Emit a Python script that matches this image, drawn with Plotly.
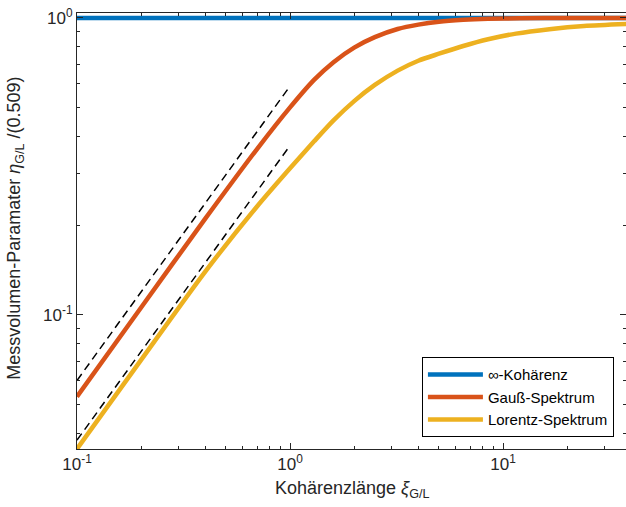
import plotly.graph_objects as go

# ---- data ----
x_inf = [0.1, 40.0]
y_inf = [1.0, 1.0]

x_gauss = [0.1, 0.2, 0.4, 0.7, 1.0, 1.3, 1.6, 2.0, 2.5, 3.2, 4.0, 5.0, 6.5, 8.5, 12.0, 20.0, 40.0]
y_gauss = [0.0531, 0.106, 0.211, 0.362, 0.50, 0.62, 0.71, 0.795, 0.862, 0.918, 0.950, 0.972, 0.986, 0.994, 0.998, 1.0, 1.0]

x_lor = [0.1, 0.2, 0.4, 0.7, 1.0, 1.3, 1.6, 2.0, 2.5, 3.2, 4.0, 5.0, 6.5, 8.5, 11.5, 16.5, 24.0, 40.0]
y_lor = [0.0354, 0.0706, 0.140, 0.232, 0.312, 0.385, 0.452, 0.525, 0.595, 0.665, 0.718, 0.758, 0.805, 0.848, 0.886, 0.917, 0.940, 0.956]

x_asym = [0.1, 1.0]
y_asym_gauss = [0.0602, 0.59]
y_asym_lor = [0.0379, 0.372]

names = ["∞-Kohärenz", "Gauß-Spektrum", "Lorentz-Spektrum"]
colors = ["#0072BD", "#D95319", "#EDB120"]

xtickvals = [0.1, 1, 10]
xticktext = ["10<sup>-1</sup>", "10<sup>0</sup>", "10<sup>1</sup>"]
ytickvals = [0.1, 1]
yticktext = ["10<sup>-1</sup>", "10<sup>0</sup>"]

xminor = [v * m for v in [0.1, 1, 10] for m in range(2, 10)]
yminor = [v * m for v in [0.01, 0.1] for m in range(2, 10)]

FONT = "Liberation Sans, Arial, sans-serif"
AX = "#262626"

fig = go.Figure()
for xs, ys in [(x_asym, y_asym_gauss), (x_asym, y_asym_lor)]:
    fig.add_trace(go.Scatter(x=xs, y=ys, mode="lines", showlegend=False,
                             line=dict(color="black", width=1.5, dash="8px,5px")))
for xs, ys, n, c in [(x_inf, y_inf, names[0], colors[0]),
                     (x_gauss, y_gauss, names[1], colors[1]),
                     (x_lor, y_lor, names[2], colors[2])]:
    fig.add_trace(go.Scatter(x=xs, y=ys, mode="lines", name=n,
                             line=dict(color=c, width=4.5, shape="spline", smoothing=0.7)))

axis_common = dict(showgrid=False, zeroline=False, showline=True, linecolor=AX, linewidth=1,
                   mirror="ticks", ticks="inside", ticklen=6, tickcolor=AX, tickwidth=1,
                   tickfont=dict(family=FONT, size=17, color=AX))

fig.update_xaxes(type="log", range=[-1, 1.577], tickmode="array", tickvals=xtickvals,
                 ticktext=xticktext,
                 minor=dict(tickmode="array", tickvals=xminor, ticks="inside", ticklen=3,
                            tickcolor=AX, showgrid=False),
                 **axis_common)
fig.update_yaxes(type="log", range=[-1.4512, 0.0168], tickmode="array", tickvals=ytickvals,
                 ticktext=yticktext,
                 minor=dict(tickmode="array", tickvals=yminor, ticks="inside", ticklen=3,
                            tickcolor=AX, showgrid=False),
                 **axis_common)

fig.add_annotation(text="Kohärenzlänge <i>ξ</i><sub>G/L</sub>", xref="paper", yref="paper",
                   x=0.5, y=0, yanchor="top", yshift=-27, showarrow=False,
                   font=dict(family=FONT, size=18, color=AX))
fig.add_annotation(text="Messvolumen-Paramater <i>η</i><sub>G/L</sub> /(0.509)", xref="paper", yref="paper",
                   x=0, y=0.505, xanchor="center", xshift=-61, textangle=-90, showarrow=False,
                   font=dict(family=FONT, size=18, color=AX))

fig.update_layout(
    width=626, height=507,
    margin=dict(l=77, r=0, t=13, b=58),
    paper_bgcolor="white", plot_bgcolor="white",
    legend=dict(x=0.978, y=0.027, xanchor="right", yanchor="bottom",
                bordercolor="black", borderwidth=1, bgcolor="white",
                font=dict(family=FONT, size=15, color="black"),
                itemwidth=55, tracegroupgap=0),
    showlegend=True,
)

fig.write_html("out.html")
